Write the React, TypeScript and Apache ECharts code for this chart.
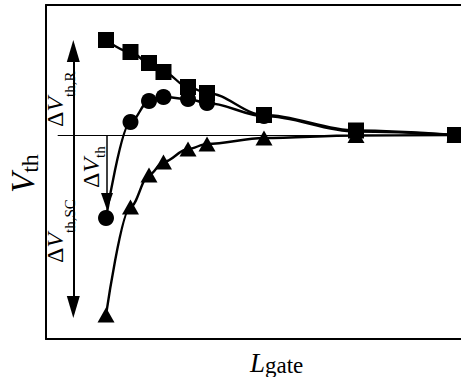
import React, { useEffect, useRef } from 'react';
import * as echarts from 'echarts';

// gate length (arbitrary units) shared by the three series
const lGate = [14.46, 20.36, 24.82, 28.31, 34.22, 38.8, 52.53, 74.7, 98.55];
// threshold voltage (arbitrary units, 0 = long-channel value)
const vthSquare = [9.5, 8.3, 7.2, 6.3, 4.8, 4.2, 2.0, 0.45, 0];
const vthCircle = [-8.3, 1.3, 3.4, 3.8, 3.6, 3.2, 1.9, 0.35, 0];
const vthTriangle = [-18.0, -7.2, -4.0, -2.7, -1.4, -0.9, -0.3, -0.05, 0];

const xRange = [0, 100];
const yRange = [-20.4, 13];

// annotation lines in data units
const refLine = { y: 0, xFrom: 2.82, xTo: 100 };
const arrowR = { x: 6.58, from: 0, to: 8.4 };
const arrowSC = { x: 6.58, from: 0, to: -17.2 };
const arrowTh = { x: 14.7, from: 0, to: -6.65 };

const FONT = '"Liberation Serif", "Times New Roman", serif';

type Part = { text: string; size: number; italic?: boolean; base: number };

function measure(text: string, size: number, italic?: boolean) {
  const ctx = document.createElement('canvas').getContext('2d')!;
  ctx.font = `${italic ? 'italic ' : ''}${size}px ${FONT}`;
  return ctx.measureText(text).width;
}

function label(parts: Part[], start: number, rotated: boolean) {
  let cursor = start;
  return parts.map((p) => {
    const w = measure(p.text, p.size, p.italic);
    const center = p.base - 0.3375 * p.size;
    const el: any = {
      type: 'text',
      silent: true,
      x: rotated ? center : cursor,
      y: rotated ? cursor : center,
      rotation: rotated ? Math.PI / 2 : 0,
      style: {
        text: p.text,
        fontFamily: FONT,
        fontSize: p.size,
        fontStyle: p.italic ? 'italic' : 'normal',
        fill: '#000',
        align: 'left',
        verticalAlign: 'middle',
      },
    };
    cursor += rotated ? -w : w;
    return el;
  });
}

const hiddenAxisParts = {
  axisTick: { show: false },
  axisLabel: { show: false },
  splitLine: { show: false },
};

export default function App() {
  const ref = useRef<HTMLDivElement>(null);
  useEffect(() => {
    const chart = echarts.init(ref.current!, null, { renderer: 'svg' });
    const lineCommon = {
      type: 'line' as const,
      smooth: 0.35,
      smoothMonotone: 'x' as const,
      lineStyle: { color: '#000', width: 2.4 },
      itemStyle: { color: '#000' },
      emphasis: { disabled: true },
      silent: true,
    };
    const mk = (x1: number, y1: number, x2: number, y2: number, width: number, arrow?: number[]) => [
      { coord: [x1, y1], symbol: 'none', lineStyle: { color: '#000', width, type: 'solid' } },
      arrow
        ? { coord: [x2, y2], symbol: 'triangle', symbolSize: arrow }
        : { coord: [x2, y2], symbol: 'none' },
    ];
    chart.setOption({
      animation: false,
      grid: { left: 46, right: 0, top: 5, bottom: 38 },
      xAxis: [
        {
          type: 'value', min: xRange[0], max: xRange[1], position: 'bottom',
          axisLine: { show: true, onZero: false, lineStyle: { color: '#000', width: 2 } },
          ...hiddenAxisParts,
        },
        {
          type: 'value', min: xRange[0], max: xRange[1], position: 'top',
          axisLine: { show: true, onZero: false, lineStyle: { color: '#000', width: 2 } },
          ...hiddenAxisParts,
        },
      ],
      yAxis: {
        type: 'value', min: yRange[0], max: yRange[1],
        axisLine: { show: true, onZero: false, lineStyle: { color: '#000', width: 2 } },
        ...hiddenAxisParts,
      },
      series: [
        {
          ...lineCommon,
          name: 'annotations',
          data: [],
          markLine: {
            silent: true,
            animation: false,
            label: { show: false },
            emphasis: { disabled: true },
            itemStyle: { color: '#000' },
            data: [
              mk(refLine.xFrom, refLine.y, refLine.xTo, refLine.y, 1.2),
              mk(arrowR.x, arrowR.from, arrowR.x, arrowR.to, 2, [13, 22]),
              mk(arrowSC.x, arrowSC.from, arrowSC.x, arrowSC.to, 2, [13, 22]),
              mk(arrowTh.x, arrowTh.from, arrowTh.x, arrowTh.to, 1.5, [12, 17]),
            ],
          },
        },
        {
          ...lineCommon,
          name: 'square',
          symbol: 'rect',
          symbolSize: 16,
          data: lGate.map((x, i) => [x, vthSquare[i]]),
        },
        {
          ...lineCommon,
          name: 'circle',
          symbol: 'circle',
          symbolSize: 16,
          data: lGate.map((x, i) => [x, vthCircle[i]]),
        },
        {
          ...lineCommon,
          name: 'triangle',
          symbol: 'triangle',
          symbolSize: [17, 15],
          data: lGate.map((x, i) => [x, vthTriangle[i]]),
        },
      ],
      graphic: [
        // y-axis title V_th
        ...label([
          { text: 'V', size: 33, italic: true, base: 34 },
          { text: 'th', size: 24, base: 38 },
        ], 193, true),
        // x-axis title L_gate
        ...label([
          { text: 'L', size: 27, italic: true, base: 372 },
          { text: 'gate', size: 23, base: 373 },
        ], 250, false),
        // ΔV_th,R
        ...label([
          { text: 'Δ', size: 24, base: 63 },
          { text: 'V', size: 24, italic: true, base: 63 },
          { text: 'th,R', size: 15, base: 75 },
        ], 127, true),
        // ΔV_th,SC
        ...label([
          { text: 'Δ', size: 24, base: 63 },
          { text: 'V', size: 24, italic: true, base: 63 },
          { text: 'th,SC', size: 15, base: 75 },
        ], 263, true),
        // ΔV_th
        ...label([
          { text: 'Δ', size: 24, base: 99 },
          { text: 'V', size: 24, italic: true, base: 99 },
          { text: 'th', size: 15, base: 105 },
        ], 188, true),
      ],
    });
    return () => chart.dispose();
  }, []);
  return <div ref={ref} style={{ position: 'fixed', left: 0, top: 0, width: 461, height: 377, background: '#fff' }} />;
}
